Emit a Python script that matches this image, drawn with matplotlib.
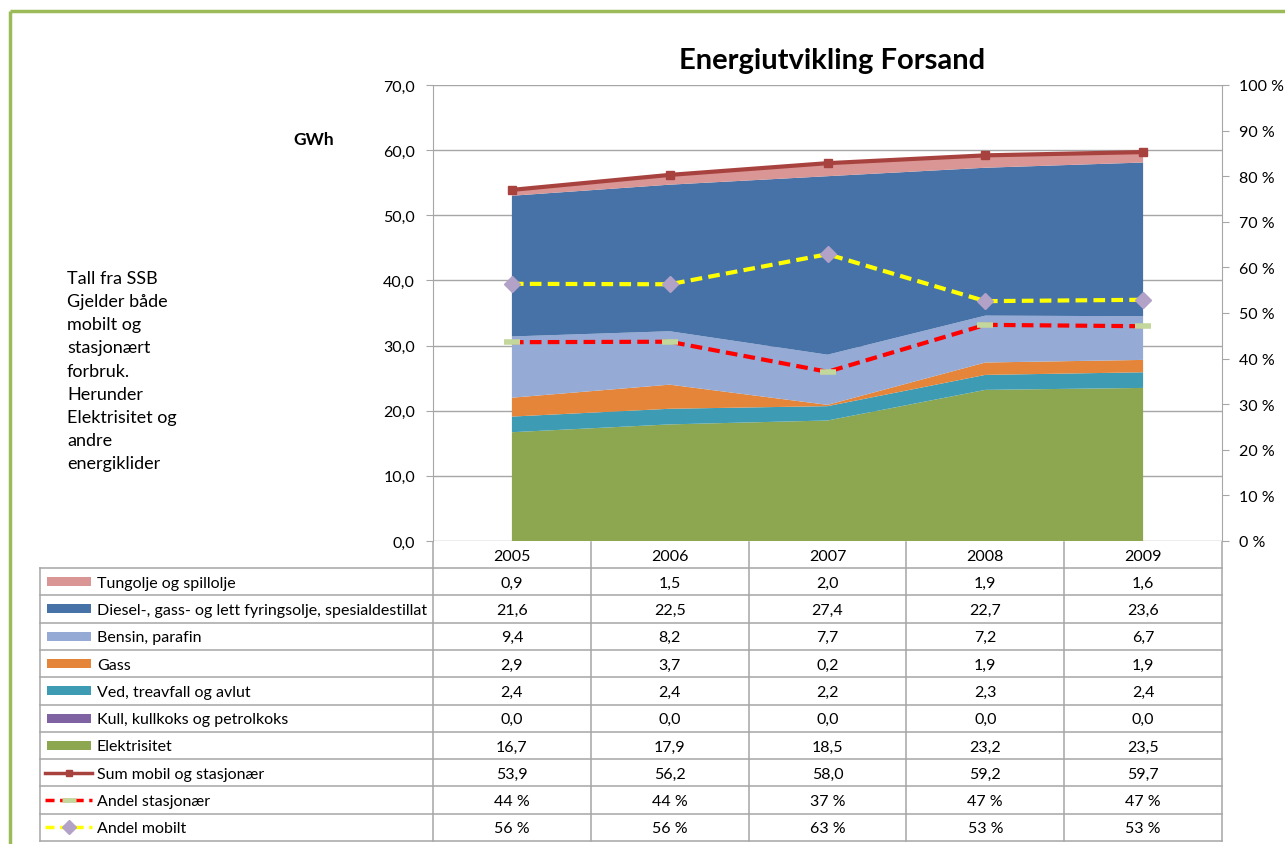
import numpy as np
import matplotlib.pyplot as plt
from matplotlib.patches import Rectangle
from matplotlib.ticker import FuncFormatter

plt.rcParams['font.family'] = ['Lato', 'DejaVu Sans']

# data (GWh, andel i %)
years = ['2005', '2006', '2007', '2008', '2009']
tungolje = [0.9, 1.5, 2.0, 1.9, 1.6]
diesel = [21.6, 22.5, 27.4, 22.7, 23.6]
bensin = [9.4, 8.2, 7.7, 7.2, 6.7]
gass = [2.9, 3.7, 0.2, 1.9, 1.9]
ved = [2.4, 2.4, 2.2, 2.3, 2.4]
kull = [0.0, 0.0, 0.0, 0.0, 0.0]
elektrisitet = [16.7, 17.9, 18.5, 23.2, 23.5]
sum_total = [53.9, 56.2, 58.0, 59.2, 59.7]
andel_stasjonaer = [43.6, 43.7, 37.1, 47.4, 47.1]
andel_mobilt = [56.4, 56.3, 62.9, 52.6, 52.9]

# farger
c_tung = '#D99694'
c_diesel = '#4672A8'
c_bensin = '#95AAD4'
c_gass = '#E4853A'
c_ved = '#3E9BB4'
c_kull = '#7F62A1'
c_el = '#8CA750'
c_sum = '#A8423F'
grid_c = '#A6A6A6'

W, H = 1285, 845
fig = plt.figure(figsize=(W / 100, H / 100), dpi=100)

# ramme rundt
frame = fig.add_axes([0, 0, 1, 1])
frame.set_xlim(0, W)
frame.set_ylim(H, 0)
frame.axis('off')
frame.plot([10, W], [12, 12], color='#9BBB59', lw=2.5, solid_capstyle='butt')
frame.plot([10, 10], [12, H], color='#9BBB59', lw=2.5, solid_capstyle='butt')

# hovedplott
ax = fig.add_axes([433 / W, 1 - 542 / H, (1222 - 433) / W, (542 - 86) / H])
x = np.arange(len(years))
ax.stackplot(x, elektrisitet, kull, ved, gass, bensin, diesel, tungolje,
             colors=[c_el, c_kull, c_ved, c_gass, c_bensin, c_diesel, c_tung], zorder=2)
ax.plot(x, sum_total, color=c_sum, lw=3, marker='s', ms=6, zorder=3)
ax.set_xlim(-0.5, len(years) - 0.5)
ax.set_ylim(0, 70)
ax.set_yticks(np.arange(0, 71, 10))
ax.yaxis.set_major_formatter(FuncFormatter(lambda v, p: f'{v:.1f}'.replace('.', ',')))
ax.set_xticks([])
ax.grid(axis='y', color=grid_c, lw=1, zorder=0)
ax.set_axisbelow(True)
for s in ['top', 'bottom', 'right']:
    ax.spines[s].set_visible(False)
ax.spines['left'].set_color(grid_c)
ax.tick_params(axis='y', direction='out', length=5, color=grid_c, labelsize=11.5, pad=8)

ax2 = ax.twinx()
ax2.plot(x, andel_stasjonaer, color='#FF0000', lw=3, dashes=(2.8, 1.5),
         marker='_', ms=12, mew=4, mec='#C3D69B', zorder=4)
ax2.plot(x, andel_mobilt, color='#FFFF00', lw=3, dashes=(2.8, 1.5),
         marker='D', ms=8, mfc='#B3A2C7', mec='#B3A2C7', zorder=4)
ax2.set_ylim(0, 100)
ax2.set_yticks(np.arange(0, 101, 10))
ax2.yaxis.set_major_formatter(FuncFormatter(lambda v, p: f'{v:.0f} %'))
for s in ['top', 'bottom', 'left']:
    ax2.spines[s].set_visible(False)
ax2.spines['right'].set_color(grid_c)
ax2.tick_params(axis='y', direction='out', length=5, color=grid_c, labelsize=11.5, pad=7)

fig.text(832 / W, 1 - 61 / H, 'Energiutvikling Forsand', ha='center', va='center',
         fontsize=21, fontweight='bold')
fig.text(314 / W, 1 - 140 / H, 'GWh', ha='center', va='center', fontsize=12.5, fontweight='bold')
fig.text(67 / W, 1 - 271 / H,
         'Tall fra SSB\nGjelder både\nmobilt og\nstasjonært\nforbruk.\nHerunder\nElektrisitet og\nandre\nenergiklider',
         ha='left', va='top', fontsize=13, linespacing=1.55)

# datatabell
rows = [
    ('Tungolje og spillolje', tungolje, 'area', c_tung),
    ('Diesel-, gass- og lett fyringsolje, spesialdestillat', diesel, 'area', c_diesel),
    ('Bensin, parafin', bensin, 'area', c_bensin),
    ('Gass', gass, 'area', c_gass),
    ('Ved, treavfall og avlut', ved, 'area', c_ved),
    ('Kull, kullkoks og petrolkoks', kull, 'area', c_kull),
    ('Elektrisitet', elektrisitet, 'area', c_el),
    ('Sum mobil og stasjonær', sum_total, 'sum', c_sum),
    ('Andel stasjonær', andel_stasjonaer, 'stas', '#FF0000'),
    ('Andel mobilt', andel_mobilt, 'mob', '#FFFF00'),
]

fig.canvas.draw()
col_edges = [ax.transData.transform((i - 0.5, 0))[0] for i in range(len(years) + 1)]
col_mid = [ax.transData.transform((i, 0))[0] for i in range(len(years))]
tab_left = 40
head_top, head_bot = 543, 569
row_h = 27.3
tab_bot = head_bot + row_h * len(rows)

tab = frame
for xe in col_edges:
    tab.plot([xe, xe], [head_top, tab_bot], color=grid_c, lw=1.1)
tab.plot([tab_left, tab_left], [head_bot, tab_bot], color=grid_c, lw=1.1)
for k in range(len(rows) + 1):
    yy = head_bot + k * row_h
    tab.plot([tab_left, col_edges[-1]], [yy, yy], color=grid_c, lw=1.1)

tfs = 11.5
for xm, yr in zip(col_mid, years):
    tab.text(xm, (head_top + head_bot) / 2 + 1, yr, ha='center', va='center', fontsize=tfs)

for r, (label, vals, kind, col) in enumerate(rows):
    yc = head_bot + (r + 0.5) * row_h
    if kind == 'area':
        tab.add_patch(Rectangle((47, yc - 4.5), 44, 9, color=col, lw=0))
    elif kind == 'sum':
        tab.plot([45, 92], [yc, yc], color=col, lw=2.5)
        tab.plot([68.5], [yc], marker='s', ms=5, color=col)
    elif kind == 'stas':
        tab.plot([45, 92], [yc, yc], color=col, lw=2.5, dashes=(2.6, 1.6))
        tab.plot([68.5], [yc], marker='_', ms=10, mew=3.5, color='#C3D69B')
    else:
        tab.plot([45, 92], [yc, yc], color=col, lw=2.5, dashes=(2.6, 1.6))
        tab.plot([68.5], [yc], marker='D', ms=7, color='#B3A2C7')
    tab.text(97, yc + 1, label, ha='left', va='center', fontsize=tfs)
    for xm, v in zip(col_mid, vals):
        if kind in ('stas', 'mob'):
            s = f'{v:.0f} %'
        else:
            s = f'{v:.1f}'.replace('.', ',')
        tab.text(xm, yc + 1, s, ha='center', va='center', fontsize=tfs)

fig.savefig('out.png', dpi=100)
